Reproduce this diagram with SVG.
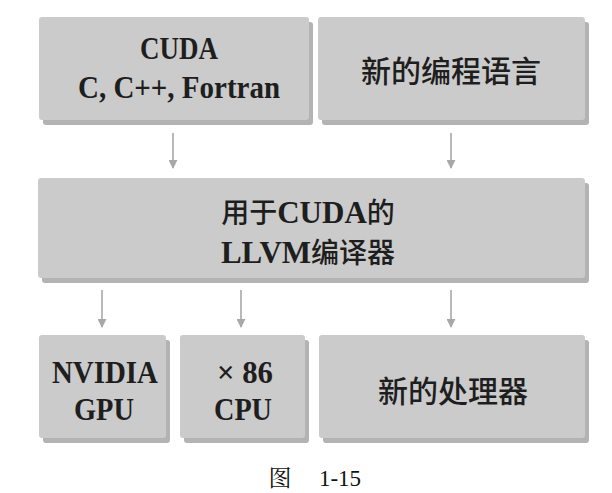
<svg xmlns="http://www.w3.org/2000/svg" width="612" height="493" viewBox="0 0 612 493">
<style>
.shadow{fill:#b3b3b3}
.box{fill:#cbcbcb}
.lat{font-family:"Liberation Serif","Times New Roman",serif;font-weight:bold;font-size:31px;fill:#1e1e1e}
.cjk{font-family:"Noto Sans CJK SC","Noto Sans",sans-serif;font-weight:500;font-size:30px;fill:#1e1e1e}
.mid{font-size:28px}
.cap{font-family:"Liberation Serif","Noto Serif CJK SC","Noto Sans CJK SC",serif;font-size:23px;fill:#111}
.arrow{stroke:#a8a8a8;stroke-width:1.6;fill:none}
</style>
<defs>
<marker id="ah" viewBox="0 0 10 10" refX="9" refY="5" markerWidth="9" markerHeight="9" markerUnits="userSpaceOnUse" orient="auto">
<path d="M0,0 L10,5 L0,10 z" fill="#a8a8a8"/>
</marker>
</defs>
<rect width="612" height="493" fill="#ffffff"/>
<g id="n-cuda">
<rect class="shadow" x="43" y="22" width="270" height="103" rx="3"/>
<rect class="box" x="39" y="17" width="270" height="103" rx="3"/>
<text class="lat" x="140" y="59" textLength="78" lengthAdjust="spacingAndGlyphs">CUDA</text>
<text class="lat" x="78" y="98" textLength="202" lengthAdjust="spacingAndGlyphs">C, C++, Fortran</text>
</g>
<g id="n-newlang">
<rect class="shadow" x="322" y="22" width="267" height="103" rx="3"/>
<rect class="box" x="318" y="17" width="267" height="103" rx="3"/>
<text class="cjk" x="451" y="82" text-anchor="middle">新的编程语言</text>
</g>
<g id="n-llvm">
<rect class="shadow" x="42" y="183" width="547" height="100" rx="3"/>
<rect class="box" x="38" y="178" width="547" height="100" rx="3"/>
<text x="308" y="223" text-anchor="middle"><tspan class="cjk mid">用于</tspan><tspan class="lat" font-size="30">CUDA</tspan><tspan class="cjk mid">的</tspan></text>
<text x="308" y="263" text-anchor="middle"><tspan class="lat" font-size="30">LLVM</tspan><tspan class="cjk mid">编译器</tspan></text>
</g>
<g id="n-gpu">
<rect class="shadow" x="43" y="340" width="127" height="103" rx="3"/>
<rect class="box" x="39" y="335" width="127" height="103" rx="3"/>
<text class="lat" x="52" y="383" textLength="106" lengthAdjust="spacingAndGlyphs">NVIDIA</text>
<text class="lat" x="74" y="420" textLength="60" lengthAdjust="spacingAndGlyphs">GPU</text>
</g>
<g id="n-cpu">
<rect class="shadow" x="184" y="340" width="125" height="103" rx="3"/>
<rect class="box" x="180" y="335" width="125" height="103" rx="3"/>
<text class="lat" x="217" y="383" textLength="56" lengthAdjust="spacingAndGlyphs">× 86</text>
<text class="lat" x="214" y="420" textLength="58" lengthAdjust="spacingAndGlyphs">CPU</text>
</g>
<g id="n-newproc">
<rect class="shadow" x="323" y="340" width="266" height="103" rx="3"/>
<rect class="box" x="319" y="335" width="266" height="103" rx="3"/>
<text class="cjk" x="453" y="402" text-anchor="middle">新的处理器</text>
</g>
<g id="connectors">
<line class="arrow" x1="173" y1="133" x2="173" y2="168" marker-end="url(#ah)"/>
<line class="arrow" x1="451" y1="133" x2="451" y2="168" marker-end="url(#ah)"/>
<line class="arrow" x1="102" y1="290" x2="102" y2="327" marker-end="url(#ah)"/>
<line class="arrow" x1="241" y1="290" x2="241" y2="327" marker-end="url(#ah)"/>
<line class="arrow" x1="451" y1="290" x2="451" y2="327" marker-end="url(#ah)"/>
</g>
<text class="cap" x="280" y="486" text-anchor="middle">图</text>
<text class="cap" x="340" y="486" text-anchor="middle">1-15</text>
</svg>
